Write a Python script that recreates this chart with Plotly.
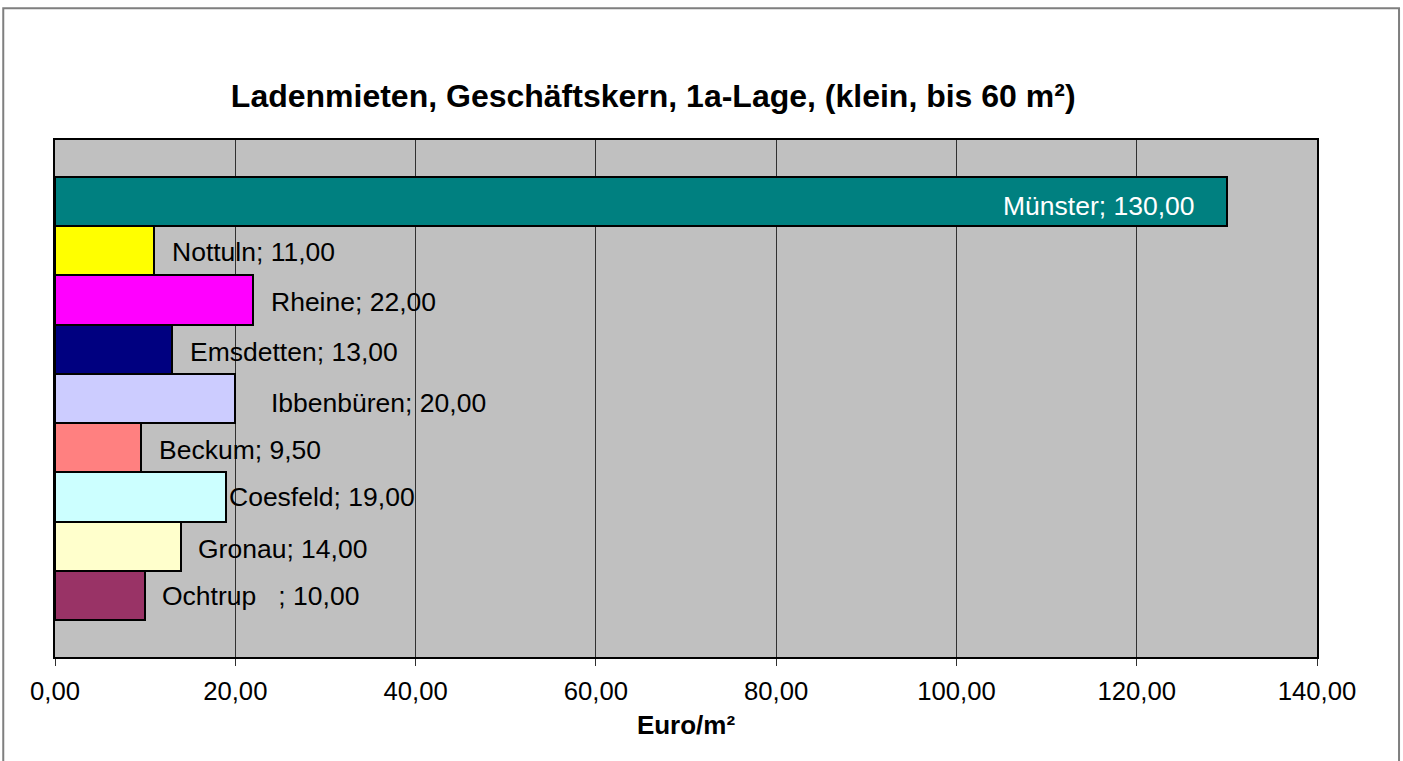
import plotly.graph_objects as go

# Daten (Euro/m²)
staedte = ["Münster", "Nottuln", "Rheine", "Emsdetten", "Ibbenbüren",
           "Beckum", "Coesfeld", "Gronau", "Ochtrup\u00a0\u00a0\u00a0"]
mieten = [130.00, 11.00, 22.00, 13.00, 20.00, 9.50, 19.00, 14.00, 10.00]
farben = ["#008080", "#FFFF00", "#FF00FF", "#000080", "#CCCCFF",
          "#FF8080", "#CCFFFF", "#FFFFCC", "#993366"]
x_ticks = [0, 20, 40, 60, 80, 100, 120, 140]

titel = "Ladenmieten, Geschäftskern, 1a-Lage, (klein, bis 60 m²)"
achse = "Euro/m²"

# Verschiebung der Beschriftungen (px) relativ zum Balkenende / zur Balkenmitte
label_dx = [-30, 15.5, 15.5, 16, 33.5, 16, 0.5, 15, 15]
label_dy = [-4, -1, -1.5, -2.5, -4.5, -2.5, 0, -2.5, -1]

FONT = "Liberation Sans, Arial, sans-serif"

pos = list(range(len(staedte)))

fig = go.Figure()
fig.add_trace(go.Bar(
    x=mieten,
    y=pos,
    orientation="h",
    width=1,
    marker=dict(color=farben, line=dict(color="black", width=2)),
    hoverinfo="x",
))


def de(v):
    return f"{v:.2f}".replace(".", ",")


for i, (s, v) in enumerate(zip(staedte, mieten)):
    inside = label_dx[i] < 0
    fig.add_annotation(
        x=v, y=i, xref="x", yref="y",
        text=f"{s}; {de(v)}",
        showarrow=False,
        xanchor="right" if inside else "left",
        xshift=label_dx[i], yshift=label_dy[i],
        font=dict(family=FONT, size=26.5, color="white" if inside else "black"),
    )

# Rahmen um das gesamte Diagramm
fig.add_shape(type="rect", xref="paper", yref="paper",
              x0=-0.041, x1=1.065, y0=-0.4, y1=1.255,
              line=dict(color="#7f7f7f", width=2), layer="below")

fig.update_layout(
    width=1403, height=761,
    margin=dict(l=55, r=86, t=140, b=104),
    paper_bgcolor="white",
    plot_bgcolor="#C0C0C0",
    separators=",.",
    showlegend=False,
    bargap=0,
    font=dict(family=FONT, size=25, color="black"),
    title=dict(
        text=f"<b>{titel}</b>",
        x=0.474, xref="paper", xanchor="center",
        y=1 - 96 / 761, yref="container", yanchor="middle",
        font=dict(family=FONT, size=32, color="black"),
    ),
    xaxis=dict(
        range=[0, 140],
        tickvals=x_ticks,
        tickformat=".2f",
        showgrid=True, gridcolor="#303030", gridwidth=1,
        zeroline=False,
        showline=True, linecolor="black", linewidth=2, mirror=True,
        ticks="outside", ticklen=7, tickcolor="#303030", tickwidth=1,
        ticklabelstandoff=3,
        tickfont=dict(family=FONT, size=25.7),
        title=dict(text=f"<b>{achse}</b>", standoff=12,
                   font=dict(family=FONT, size=26)),
    ),
    yaxis=dict(
        range=[9.25, -1.25],
        showticklabels=False, ticks="",
        showgrid=False, zeroline=False,
        showline=True, linecolor="black", linewidth=2, mirror=True,
    ),
)

fig.write_html("out.html", config={"displayModeBar": False},
               post_script="document.body.style.margin='0';")
